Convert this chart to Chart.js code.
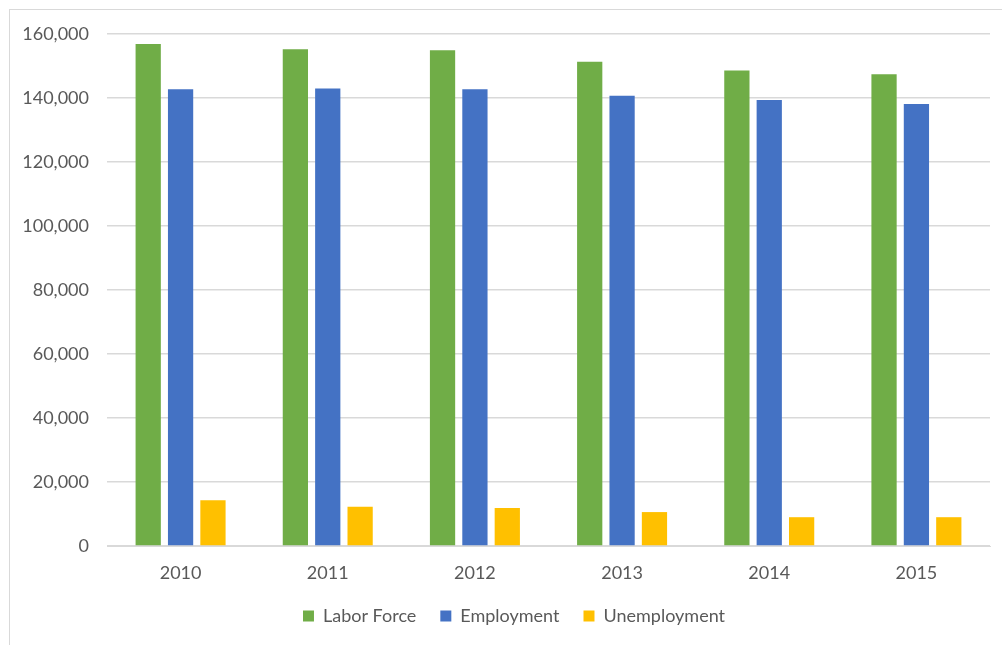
<!DOCTYPE html>
<html>
<head>
<meta charset="utf-8">
<script src="https://cdn.jsdelivr.net/npm/chart.js@4.4.0/dist/chart.umd.min.js"></script>
<style>
  html, body { margin: 0; padding: 0; background: #ffffff; }
  #wrap { position: relative; width: 1002px; height: 645px; overflow: hidden; }
  #frame { position: absolute; left: 9px; top: 9px; width: 1100px; height: 700px; border: 1px solid #d9d9d9; box-sizing: border-box; }
  canvas { position: absolute; left: 0; top: 0; }
</style>
</head>
<body>
<div id="wrap">
  <div id="frame"></div>
  <canvas id="c" width="1002" height="645"></canvas>
</div>
<script>
const years = ["2010", "2011", "2012", "2013", "2014", "2015"];
const laborForce = [156900, 155200, 154900, 151300, 148600, 147400];
const employment = [142700, 143000, 142700, 140700, 139400, 138100];
const unemployment = [14300, 12300, 11900, 10600, 9000, 9000];
const yTicks = [0, 20000, 40000, 60000, 80000, 100000, 120000, 140000, 160000];

const FONT = "Lato, 'Open Sans', sans-serif";

const legendShift = {
  id: 'legendShift',
  afterLayout(chart) {
    const l = chart.legend;
    if (l) { l.left += 19; l.right += 19; }
  }
};

new Chart(document.getElementById('c'), {
  type: 'bar',
  data: {
    labels: years,
    datasets: [
      { label: 'Labor Force', data: laborForce, backgroundColor: '#70AD47' },
      { label: 'Employment', data: employment, backgroundColor: '#4472C4' },
      { label: 'Unemployment', data: unemployment, backgroundColor: '#FFC000' }
    ]
  },
  plugins: [legendShift],
  options: {
    responsive: false,
    animation: false,
    devicePixelRatio: 1,
    layout: { padding: { left: 0, right: 12, top: 34, bottom: 10 } },
    datasets: { bar: { categoryPercentage: 0.66, barPercentage: 0.78 } },
    plugins: {
      tooltip: { enabled: false },
      legend: {
        position: 'bottom',
        labels: {
          boxWidth: 11, boxHeight: 11, padding: 24,
          color: '#595959',
          font: { family: FONT, size: 18 }
        }
      }
    },
    scales: {
      x: {
        grid: { display: false, drawTicks: false },
        border: { display: true, color: '#d9d9d9', width: 1 },
        ticks: { color: '#595959', padding: 16, font: { family: FONT, size: 18 } },
        afterFit: (s) => { s.height = 37; }
      },
      y: {
        min: 0, max: 160000,
        afterBuildTicks: (s) => { s.ticks = yTicks.map(v => ({ value: v })); },
        grid: { color: '#d9d9d9', lineWidth: 1.5, drawTicks: false },
        border: { display: false },
        ticks: {
          color: '#595959', padding: 18,
          font: { family: FONT, size: 18 },
          callback: (v) => v.toLocaleString('en-US')
        },
        afterFit: (s) => { s.width = 107; }
      }
    }
  }
});
</script>
</body>
</html>
